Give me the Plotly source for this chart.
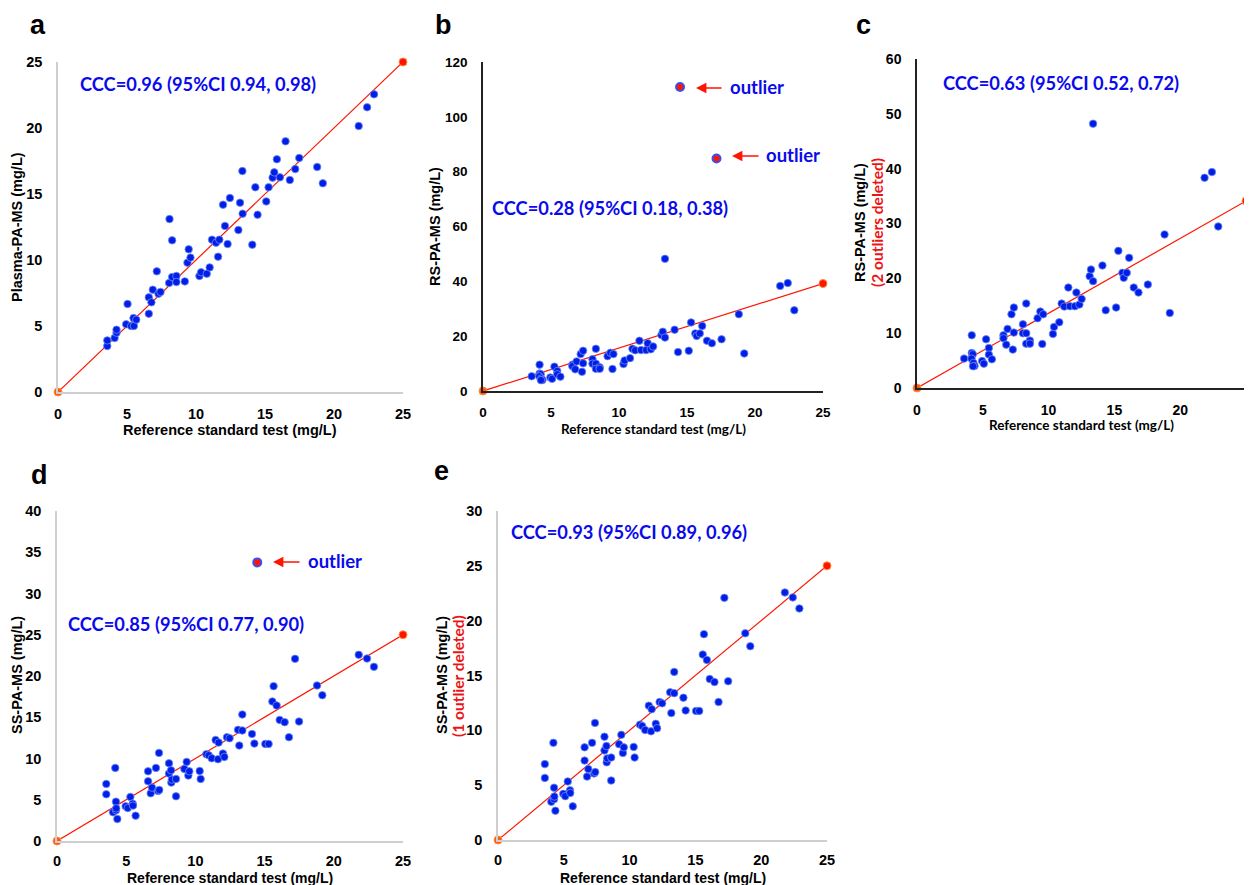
import plotly.graph_objects as go

# page size and the default 8px body margin of the html page
PAGE_W, PAGE_H = 1252, 885
OFF = 8
W, H = PAGE_W - OFF, PAGE_H - OFF

# ---------------- data ----------------
# Panel a: Plasma-PA-MS vs reference
a_x = [3.57, 3.57, 4.10, 4.24, 4.24, 4.94, 5.04, 5.30, 5.50, 5.47, 5.67, 6.58, 6.58, 6.77, 6.87, 7.16, 7.28, 7.43,
       8.05, 8.08, 8.27, 8.27, 8.58, 8.58, 9.19, 9.38, 9.47, 9.60, 10.25, 10.37, 10.78, 10.99, 11.16, 11.45, 11.60,
       11.69, 11.96, 12.10, 12.29, 12.46, 13.07, 13.19, 13.36, 13.38, 14.08, 14.30, 14.46, 15.09, 15.26, 15.55,
       15.67, 15.86, 16.08, 16.49, 16.80, 17.19, 17.48, 18.78, 19.19, 21.79, 22.40, 22.90]
a_y = [3.48, 3.91, 4.09, 4.49, 4.72, 5.13, 6.67, 5.00, 5.00, 5.60, 5.48, 7.17, 5.93, 6.79, 7.75, 9.14, 7.45, 7.58,
       8.26, 13.10, 11.49, 8.71, 8.79, 8.33, 8.38, 9.80, 10.81, 10.18, 8.79, 9.07, 8.96, 9.44, 11.54, 11.31, 10.25,
       11.54, 14.19, 12.58, 11.21, 14.70, 12.27, 14.34, 16.74, 13.51, 11.16, 15.51, 13.43, 14.44, 15.51, 16.24,
       16.64, 17.63, 16.26, 18.99, 16.06, 16.89, 17.73, 17.05, 15.81, 20.15, 21.57, 22.55]

# Panels b/c: RS-PA-MS vs reference (outliers kept separately)
rs_x = [3.58, 4.16, 4.16, 4.24, 4.14, 4.29, 4.37, 4.26, 4.95, 5.08, 5.25, 5.46, 5.46, 5.69, 6.57, 6.57, 6.78, 6.88,
        7.18, 7.28, 7.36, 7.36, 8.05, 8.05, 8.30, 8.30, 8.30, 8.58, 8.58, 9.16, 9.37, 9.52, 9.59, 10.33, 10.41,
        10.81, 10.99, 11.19, 11.50, 11.62, 12.00, 12.11, 12.34, 12.51, 13.12, 13.22, 13.38, 14.09, 14.34, 15.13,
        15.30, 15.61, 15.71, 15.94, 16.12, 16.47, 16.83, 17.54, 18.81, 19.21, 21.85, 22.41, 22.89, 13.38]
rs_y = [5.36, 9.62, 6.39, 6.15, 5.36, 4.56, 4.02, 3.96, 4.93, 4.44, 8.89, 7.30, 6.09, 5.23, 9.62, 9.07, 7.91, 10.77,
        13.45, 7.00, 14.67, 10.10, 11.62, 9.98, 15.40, 9.98, 8.09, 8.64, 8.09, 12.72, 13.94, 8.03, 13.45, 9.86, 11.14,
        11.99, 15.40, 14.85, 18.32, 14.91, 14.91, 17.41, 15.22, 16.25, 20.39, 21.61, 19.48, 22.34, 14.18, 14.67,
        25.01, 21.00, 20.09, 21.00, 23.74, 18.32, 17.41, 18.87, 28.00, 13.69, 38.34, 39.38, 29.46, 48.20]
rs_out_x = [14.49, 17.17]
rs_out_y = [110.9, 84.8]

# Panels d/e: SS-PA-MS vs reference
ss_x = [3.56, 3.56, 4.21, 4.26, 4.05, 4.26, 4.28, 4.36, 4.96, 5.11, 5.30, 5.47, 5.49, 5.68, 6.58, 6.58, 6.77, 6.86,
        7.15, 7.30, 7.39, 7.37, 8.09, 8.09, 8.24, 8.26, 8.30, 8.60, 8.60, 9.20, 9.37, 9.49, 9.56, 10.31, 10.38,
        10.79, 10.96, 11.18, 11.46, 11.63, 11.68, 11.99, 12.09, 12.28, 12.47, 13.08, 13.17, 13.39, 13.39, 14.09,
        14.26, 15.05, 15.29, 15.56, 15.65, 15.87, 16.09, 16.45, 16.76, 17.20, 17.49, 18.79, 19.17, 21.80, 22.40, 22.90]
ss_y = [6.92, 5.66, 8.86, 4.77, 3.48, 3.72, 3.96, 2.67, 4.21, 4.00, 5.34, 4.53, 4.29, 3.07, 8.45, 7.24, 5.78, 6.47,
        8.86, 6.07, 6.19, 10.68, 9.42, 8.17, 8.57, 7.08, 7.44, 7.52, 5.42, 8.74, 9.59, 7.93, 8.45, 8.49, 7.52,
        10.52, 10.39, 10.03, 12.25, 9.91, 11.93, 10.60, 10.19, 12.58, 12.46, 13.47, 11.57, 15.33, 13.39, 12.98,
        11.81, 11.77, 11.77, 16.91, 18.77, 16.42, 14.68, 14.40, 12.58, 22.08, 14.48, 18.85, 17.67, 22.57, 22.12, 21.11]
ss_out_x = [14.47]
ss_out_y = [33.77]

# fitted lines (endpoints)
fit_x = [0, 25]
fit_a = [0, 25]
fit_b = [0, 39.2]
fit_c = [0, 34.1]
fit_d = [0, 25]
fit_e = [0, 25]

ccc_labels = ["CCC=0.96 (95%CI 0.94, 0.98)", "CCC=0.28 (95%CI 0.18, 0.38)", "CCC=0.63 (95%CI 0.52, 0.72)",
              "CCC=0.85 (95%CI 0.77, 0.90)", "CCC=0.93 (95%CI 0.89, 0.96)"]
y_ranges = [25, 120, 60, 40, 30]
y_dticks = [5, 20, 10, 5, 5]
x_ticks = [0, 5, 10, 15, 20, 25]

# ---------------- layout helpers ----------------
BLUE = "rgb(0,30,230)"
TXT_BLUE = "rgb(10,10,235)"
RED = "rgb(255,20,0)"

# pixel boxes on the page: (left, right, top, bottom)
boxes = [(58, 403, 62, 392), (483, 823, 62, 391), (917, 1246, 59, 388),
         (57, 403, 511, 841), (498, 827, 511, 840)]
axis_col = ["#cfcfcf", "#222222", "#222222", "#cfcfcf", "#cfcfcf"]
tick_size = [14.5, 13.5, 14, 14.5, 14.5]
x_standoff = [8, 8, 8, 6, 6]


def px2x(px):
    return (px - OFF) / W


def py2y(py):
    return 1 - (py - OFF) / H


fig = go.Figure()
layout = dict(width=W, height=H, margin=dict(l=0, r=0, t=0, b=0, autoexpand=False), paper_bgcolor="white",
              plot_bgcolor="white", showlegend=False)

datasets = [
    (a_x, a_y, fit_a, None, None),
    (rs_x, rs_y, fit_b, rs_out_x, rs_out_y),
    (rs_x, rs_y, fit_c, None, None),
    (ss_x, ss_y, fit_d, ss_out_x, ss_out_y),
    (ss_x, ss_y, fit_e, None, None),
]

for i, (bx, (xs, ys, fit, ox, oy)) in enumerate(zip(boxes, datasets)):
    n = "" if i == 0 else str(i + 1)
    xa, ya = "x" + n, "y" + n
    l, r, t, b = bx
    layout["xaxis" + n] = dict(domain=[px2x(l), min(1, px2x(r))], range=[0, 25], anchor=ya, tickvals=x_ticks,
                               showgrid=False, zeroline=False, showline=True, linecolor=axis_col[i],
                               linewidth=1.5, ticks="", ticklabelstandoff=x_standoff[i], automargin=False,
                               tickfont=dict(family="Liberation Sans", size=tick_size[i], color="black",
                                             weight="bold"))
    layout["yaxis" + n] = dict(domain=[py2y(b), py2y(t)], range=[0, y_ranges[i]], anchor=xa,
                               dtick=y_dticks[i], tick0=0, automargin=False,
                               showgrid=False, zeroline=False, showline=True, linecolor=axis_col[i],
                               linewidth=1.5, ticks="", ticklabelstandoff=11,
                               tickfont=dict(family="Liberation Sans", size=tick_size[i], color="black",
                                             weight="bold"))
    fig.add_trace(go.Scatter(x=fit_x, y=fit, xaxis=xa, yaxis=ya, mode="lines+markers",
                             line=dict(color=RED, width=1.2), cliponaxis=False,
                             marker=dict(size=8, color=["rgb(255,90,20)", RED],
                                         line=dict(color="rgb(255,140,60)", width=1))))
    fig.add_trace(go.Scatter(x=xs, y=ys, xaxis=xa, yaxis=ya, mode="markers", cliponaxis=False,
                             marker=dict(size=7.5, color=BLUE, line=dict(color="rgb(110,140,245)", width=0.8))))
    if ox is not None:
        fig.add_trace(go.Scatter(x=ox, y=oy, xaxis=xa, yaxis=ya, mode="markers", cliponaxis=False,
                                 marker=dict(size=8, color=RED, line=dict(color="rgb(60,80,240)", width=2))))

anns = []


def ann(text, px, py, size, color="black", family="Liberation Sans", angle=0, xanchor="center",
        yanchor="middle", weight="bold"):
    anns.append(dict(text=text, x=px2x(px), y=py2y(py), xref="paper", yref="paper", showarrow=False,
                     font=dict(family=family, size=size, color=color, weight=weight), textangle=angle,
                     xanchor=xanchor, yanchor=yanchor))


def arrow(head_px, tail_px, py):
    anns.append(dict(text="", x=px2x(head_px), y=py2y(py), xref="paper", yref="paper", showarrow=True,
                     ax=tail_px - head_px, ay=0, arrowcolor=RED, arrowhead=2, arrowsize=1.3,
                     arrowwidth=1.6, standoff=0, startstandoff=0))


# panel letters
for letter, px, py in [("a", 38, 25), ("b", 443, 25), ("c", 863, 25), ("d", 39, 475), ("e", 441, 471)]:
    ann(letter, px, py, 27)

# CCC labels
CCCF = "Lato"
for lab, px, py in zip(ccc_labels, [78, 490, 941, 66, 509], [84, 208, 83, 624, 532]):
    ann(lab, px, py, 18.3, color=TXT_BLUE, family=CCCF, xanchor="left")

# outliers annotations
arrow(696, 723, 88)
ann("outlier", 728, 87, 18.5, color=TXT_BLUE, family=CCCF, xanchor="left")
arrow(732, 760, 156)
ann("outlier", 764, 155, 18.5, color=TXT_BLUE, family=CCCF, xanchor="left")
arrow(273, 301, 562)
ann("outlier", 306, 561, 18.5, color=TXT_BLUE, family=CCCF, xanchor="left")

# x-axis titles
xt = "Reference standard test (mg/L)"
ann(xt, 230, 430, 14.5)
ann(xt, 653, 429, 13.5, family=CCCF)
ann(xt, 1081, 425, 13.5, family=CCCF)
ann(xt, 230, 878, 14)
ann(xt, 663, 878, 14)

# y-axis titles
ann("Plasma-PA-MS (mg/L)", 17, 227, 14.5, angle=-90)
ann("RS-PA-MS (mg/L)", 435, 227, 14.5, angle=-90)
ann("RS-PA-MS (mg/L)", 860, 223, 14.5, angle=-90)
ann("(2 outliers deleted)", 877, 223, 15.5, color="rgb(235,20,20)", family=CCCF, angle=-90)
ann("SS-PA-MS (mg/L)", 17, 675, 14.5, angle=-90)
ann("SS-PA-MS (mg/L)", 442, 675, 14.5, angle=-90)
ann("(1 outlier deleted)", 458, 676, 15.5, color="rgb(235,20,20)", family=CCCF, angle=-90)

layout["annotations"] = anns
fig.update_layout(**layout)
fig.write_html("out.html")
